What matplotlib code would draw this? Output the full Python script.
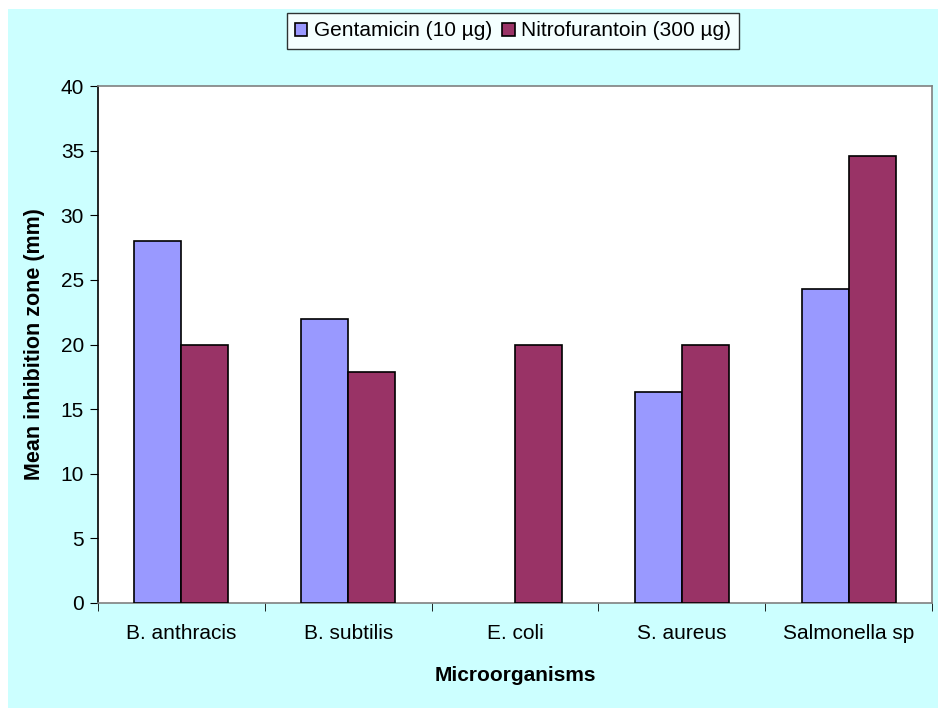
import numpy as np
import matplotlib
matplotlib.use("Agg")
import matplotlib.pyplot as plt
from matplotlib.patches import Rectangle

plt.rcParams['font.family'] = ['Liberation Sans', 'DejaVu Sans']

# data
organisms = ["B. anthracis", "B. subtilis", "E. coli", "S. aureus", "Salmonella sp"]
gentamicin = [28.0, 22.0, 0.0, 16.3, 24.3]
nitrofurantoin = [20.0, 17.9, 20.0, 20.0, 34.6]
series_names = ["Gentamicin (10 µg)", "Nitrofurantoin (300 µg)"]
y_ticks = [0, 5, 10, 15, 20, 25, 30, 35, 40]

W, H = 938, 708
FS = 15
fig = plt.figure(figsize=(W / 100, H / 100), dpi=100, facecolor="white")

# cyan chart area background
fig.patches.append(Rectangle((8 / W, 0), 1 - 8 / W, 1 - 9 / H, transform=fig.transFigure,
                             facecolor="#CCFFFF", edgecolor="none", zorder=-10))

ax = fig.add_axes([98 / W, (H - 603) / H, (932 - 98) / W, (603 - 86) / H])
ax.set_facecolor("white")

x = np.arange(len(organisms))
bw = 0.282
for vals, offs, col, name in [(gentamicin, -bw / 2, "#9999FF", series_names[0]),
                              (nitrofurantoin, bw / 2, "#993366", series_names[1])]:
    bars = ax.bar(x + offs, vals, bw, color=col, edgecolor="black", linewidth=1.2,
                  label=name, zorder=3)
    for b, v in zip(bars, vals):
        if v == 0:
            b.set_linewidth(0)

ax.set_xlim(-0.5, len(organisms) - 0.5)
ax.set_ylim(0, 40)
ax.set_yticks(y_ticks)
ax.set_xticks(x)
ax.set_xticklabels(organisms)
ax.set_xticks(np.arange(len(organisms) + 1) - 0.5, minor=True)
ax.tick_params(axis="x", which="major", length=0, pad=15, labelsize=FS)
ax.tick_params(axis="x", which="minor", length=6, direction="out", color="black")
ax.tick_params(axis="y", length=6, direction="out", labelsize=FS, pad=4)

for s in ["top", "right", "bottom"]:
    ax.spines[s].set_color("#808080")
    ax.spines[s].set_linewidth(1.2)
ax.spines["left"].set_color("black")
ax.spines["left"].set_linewidth(1.2)

ax.set_ylabel("Mean inhibition zone (mm)", fontsize=15.5, fontweight="bold", labelpad=11)
ax.set_xlabel("Microorganisms", fontsize=FS, fontweight="bold", labelpad=17)

leg = fig.legend(loc="center", bbox_to_anchor=(513 / W, 1 - 31 / H), ncol=2, fontsize=FS,
                 frameon=True, fancybox=False, edgecolor="black", handlelength=0.6,
                 handleheight=0.6, handletextpad=0.3, columnspacing=0.5, borderpad=0.4,
                 borderaxespad=0)
leg.get_frame().set_linewidth(1.0)

fig.savefig("out.png", dpi=100, facecolor=fig.get_facecolor())
